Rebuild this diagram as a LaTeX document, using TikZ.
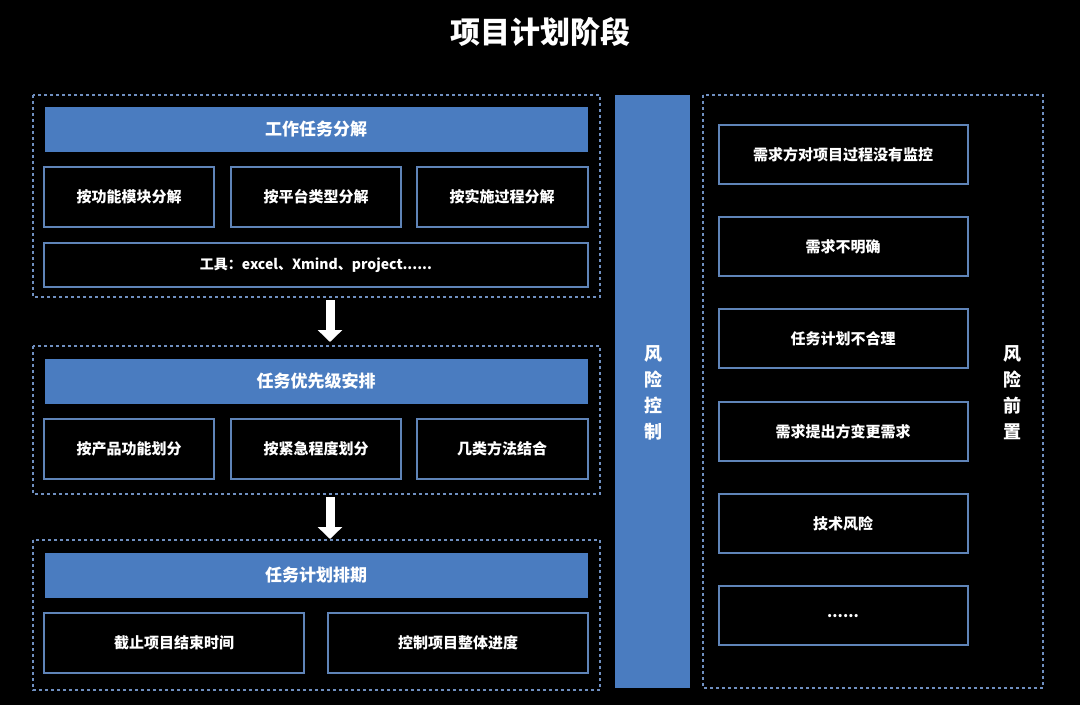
\documentclass[tikz,border=0pt]{standalone}
\usepackage{fontspec}
\setmainfont{Noto Sans CJK SC}
\usetikzlibrary{arrows.meta}
\definecolor{barblue}{HTML}{4A7CC0}
\definecolor{lineblue}{HTML}{5F84B8}
\definecolor{dashblue}{HTML}{6F8FC0}
\tikzset{
  groupbox/.style={draw=dashblue, dashed, line width=1.5pt},
  barbox/.style={fill=barblue, text=white, font=\fontsize{17}{20}\selectfont\bfseries},
  itembox/.style={draw=lineblue, line width=2pt, text=white, font=\fontsize{15}{18}\selectfont\bfseries},
  downarrow/.style={-{Triangle[length=12pt,width=24pt]}, line width=9pt, white}
}
\begin{document}
\begin{tikzpicture}[x=1pt,y=-1pt]
    \fill[black] (0,0) rectangle (1080,705);
    \useasboundingbox (0,0) rectangle (1080,705);

    \node[text=white, font=\fontsize{30}{34}\selectfont\bfseries] (title) at (540,32) {项目计划阶段};

    % first group
    \draw[groupbox] (33,95) rectangle (600,297);
    \draw[barbox] (44,106) rectangle (588,152);
    \node[text=white, font=\fontsize{17}{20}\selectfont\bfseries] (wbs) at (316,129) {工作任务分解};
    \draw[itembox] (44,167) rectangle (214,227);
    \draw[itembox] (231,167) rectangle (401,227);
    \draw[itembox] (417,167) rectangle (588,227);
    \draw[itembox] (44,243) rectangle (588,287);
    \node[itembox, draw=none] (wbsa) at (129,197) {按功能模块分解};
    \node[itembox, draw=none] (wbsb) at (316,197) {按平台类型分解};
    \node[itembox, draw=none] (wbsc) at (502,197) {按实施过程分解};
    \node[itembox, draw=none, font=\fontsize{14}{17}\selectfont\bfseries] (tools) at (316,265) {工具：excel、Xmind、project......};

    \coordinate (arra) at (330,300);
    \coordinate (arrb) at (330,342);
    \draw[downarrow] (arra) -- (arrb);

    % second group
    \draw[groupbox] (33,346) rectangle (600,494);
    \draw[barbox] (44,358) rectangle (588,404);
    \node[text=white, font=\fontsize{17}{20}\selectfont\bfseries] (prio) at (316,381) {任务优先级安排};
    \draw[itembox] (44,419) rectangle (214,479);
    \draw[itembox] (231,419) rectangle (401,479);
    \draw[itembox] (417,419) rectangle (588,479);
    \node[itembox, draw=none] (prioa) at (129,449) {按产品功能划分};
    \node[itembox, draw=none] (priob) at (316,449) {按紧急程度划分};
    \node[itembox, draw=none] (prioc) at (502,449) {几类方法结合};

    \coordinate (arrc) at (330,497);
    \coordinate (arrd) at (330,539);
    \draw[downarrow] (arrc) -- (arrd);

    % third group
    \draw[groupbox] (33,540) rectangle (600,690);
    \draw[barbox] (44,552) rectangle (588,598);
    \node[text=white, font=\fontsize{17}{20}\selectfont\bfseries] (plan) at (316,575) {任务计划排期};
    \draw[itembox] (44,613) rectangle (304,673);
    \draw[itembox] (328,613) rectangle (588,673);
    \node[itembox, draw=none] (plana) at (174,643) {截止项目结束时间};
    \node[itembox, draw=none] (planb) at (458,643) {控制项目整体进度};

    % risk control column
    \fill[barblue] (615,95) rectangle (690,688);
    \node[text=white, align=center, font=\fontsize{18}{26}\selectfont\bfseries] (ctrl) at (653,393) {风\\险\\控\\制};

    % risk list
    \draw[groupbox] (703,95) rectangle (1043,688);
    \foreach \y/\t in {125/{需求方对项目过程没有监控}, 217/{需求不明确}, 309/{任务计划不合理}, 402/{需求提出方变更需求}, 494/{技术风险}, 586/{......}} {
        \draw[itembox] (719,\y) rectangle (968,\y+59);
        \node[text=white, font=\fontsize{15}{18}\selectfont\bfseries] at (843,\y+30) {\t};
    }
    \node[text=white, align=center, font=\fontsize{18}{26}\selectfont\bfseries] (front) at (1012,393) {风\\险\\前\\置};
\end{tikzpicture}
\end{document}
